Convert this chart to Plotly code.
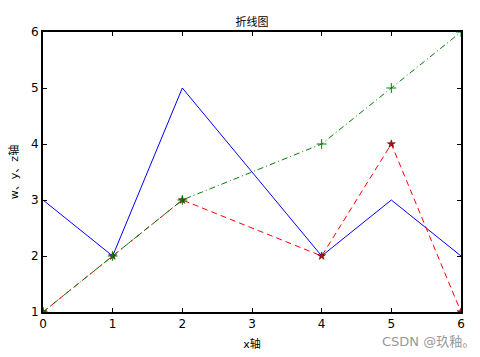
import plotly.graph_objects as go

x = [0, 1, 2, 4, 5, 6]
w = [3, 2, 5, 2, 3, 2]
y = [1, 2, 3, 2, 4, 1]
z = [1, 2, 3, 4, 5, 6]
ticks = [0, 1, 2, 3, 4, 5, 6]
yticks = [1, 2, 3, 4, 5, 6]

fig = go.Figure()
fig.add_trace(go.Scatter(x=x, y=w, mode="lines", line=dict(color="#0000ff", width=1), name="w"))
fig.add_trace(go.Scatter(x=x, y=y, mode="lines+markers", line=dict(color="#ff0000", width=1, dash="6px,4px"),
                         marker=dict(symbol="star", size=6, color="#cc0000", line=dict(color="#330000", width=0.5)), name="y"))
fig.add_trace(go.Scatter(x=x, y=z, mode="lines+markers", line=dict(color="#008000", width=1, dash="6px,3px,1px,3px"),
                         marker=dict(symbol="cross-thin", size=7, line=dict(color="#008000", width=1)), name="z"))

font = "DejaVu Sans, Noto Sans CJK SC, sans-serif"
axis_common = dict(showgrid=False, zeroline=False, showline=True, linecolor="black", linewidth=2,
                   mirror="allticks", ticks="inside", ticklen=4, tickcolor="black", automargin=False,
                   tickfont=dict(family=font, size=12, color="black"))
fig.update_xaxes(range=[0, 6], tickvals=ticks, **axis_common,
                 title=dict(text="x轴", font=dict(family=font, size=11, color="black"), standoff=10))
fig.update_yaxes(range=[1, 6], tickvals=yticks, **axis_common,
                 title=dict(text="w、y、z轴", font=dict(family=font, size=11, color="black"), standoff=10))
fig.update_layout(
    width=480, height=357, showlegend=False,
    margin=dict(l=43, r=19, t=32, b=45),
    paper_bgcolor="white", plot_bgcolor="white",
    title=dict(text="折线图", x=0.5, xref="paper", y=1 - 22/357, yanchor="middle",
               font=dict(family=font, size=11, color="black")),
    annotations=[dict(text="CSDN @玖釉。", xref="paper", yref="paper", x=1 + 16/418, y=-29/280,
                      xanchor="right", yanchor="middle", showarrow=False,
                      font=dict(family=font, size=13, color="#999999"))],
)
fig.write_html("out.html", config={"displayModeBar": False},
               post_script="document.body.style.margin='0';")
